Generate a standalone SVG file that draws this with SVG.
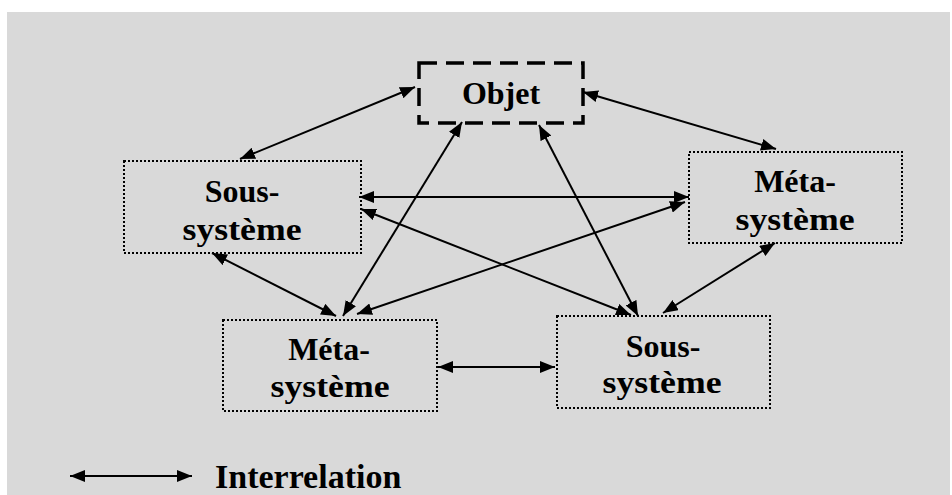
<svg xmlns="http://www.w3.org/2000/svg" width="952" height="495" viewBox="0 0 952 495">
<defs>
<style>
.bg{fill:#d9d9d9}
.box{fill:none;stroke:#000;stroke-width:2;stroke-dasharray:2 2}
.obj{fill:none;stroke:#000;stroke-width:3.5;stroke-dasharray:18 9}
.lbl{font-family:"Liberation Serif","DejaVu Serif",serif;font-weight:bold;font-size:32px;fill:#000;text-anchor:middle}
.leg{font-family:"Liberation Serif","DejaVu Serif",serif;font-weight:bold;font-size:34px;fill:#000}
.c line{stroke:#000;stroke-width:2;marker-start:url(#ah);marker-end:url(#ah)}
</style>
<marker id="ah" viewBox="0 0 15 12" refX="15" refY="6" markerWidth="15" markerHeight="12" markerUnits="userSpaceOnUse" orient="auto-start-reverse">
<path d="M0,0 L15,6 L0,12 Z" fill="#000"/>
</marker>
</defs>
<rect class="bg" x="7" y="12" width="943" height="483"/>
<g id="objet">
<rect class="obj" x="419" y="63" width="164" height="60"/>
<text class="lbl" x="501" y="104">Objet</text>
</g>
<g id="sous-systeme-1">
<rect class="box" x="124" y="161" width="237" height="92"/>
<text class="lbl" x="242" y="202">Sous-</text>
<text class="lbl" x="242" y="240" textLength="119" lengthAdjust="spacingAndGlyphs">système</text>
</g>
<g id="meta-systeme-1">
<rect class="box" x="689" y="152" width="213" height="91"/>
<text class="lbl" x="795" y="192">Méta-</text>
<text class="lbl" x="795" y="230" textLength="119" lengthAdjust="spacingAndGlyphs">système</text>
</g>
<g id="meta-systeme-2">
<rect class="box" x="223" y="320" width="214" height="91"/>
<text class="lbl" x="329" y="360">Méta-</text>
<text class="lbl" x="330" y="397" textLength="119" lengthAdjust="spacingAndGlyphs">système</text>
</g>
<g id="sous-systeme-2">
<rect class="box" x="557" y="316" width="213" height="92"/>
<text class="lbl" x="663" y="357">Sous-</text>
<text class="lbl" x="662" y="393" textLength="119" lengthAdjust="spacingAndGlyphs">système</text>
</g>
<g id="connectors" class="c">
<line x1="240" y1="159" x2="415" y2="87"/>
<line x1="583" y1="92" x2="776" y2="149"/>
<line x1="359" y1="197" x2="689" y2="197"/>
<line x1="361" y1="209" x2="631" y2="315"/>
<line x1="685" y1="202" x2="357" y2="314"/>
<line x1="212" y1="253" x2="336" y2="316"/>
<line x1="462" y1="122" x2="343" y2="316"/>
<line x1="539" y1="125" x2="638" y2="316"/>
<line x1="775" y1="243" x2="663" y2="313"/>
<line x1="438" y1="367" x2="555" y2="367"/>
</g>
<g id="legend">
<g class="c"><line x1="70" y1="476" x2="192" y2="476"/></g>
<text class="leg" x="215" y="488">Interrelation</text>
</g>
</svg>
